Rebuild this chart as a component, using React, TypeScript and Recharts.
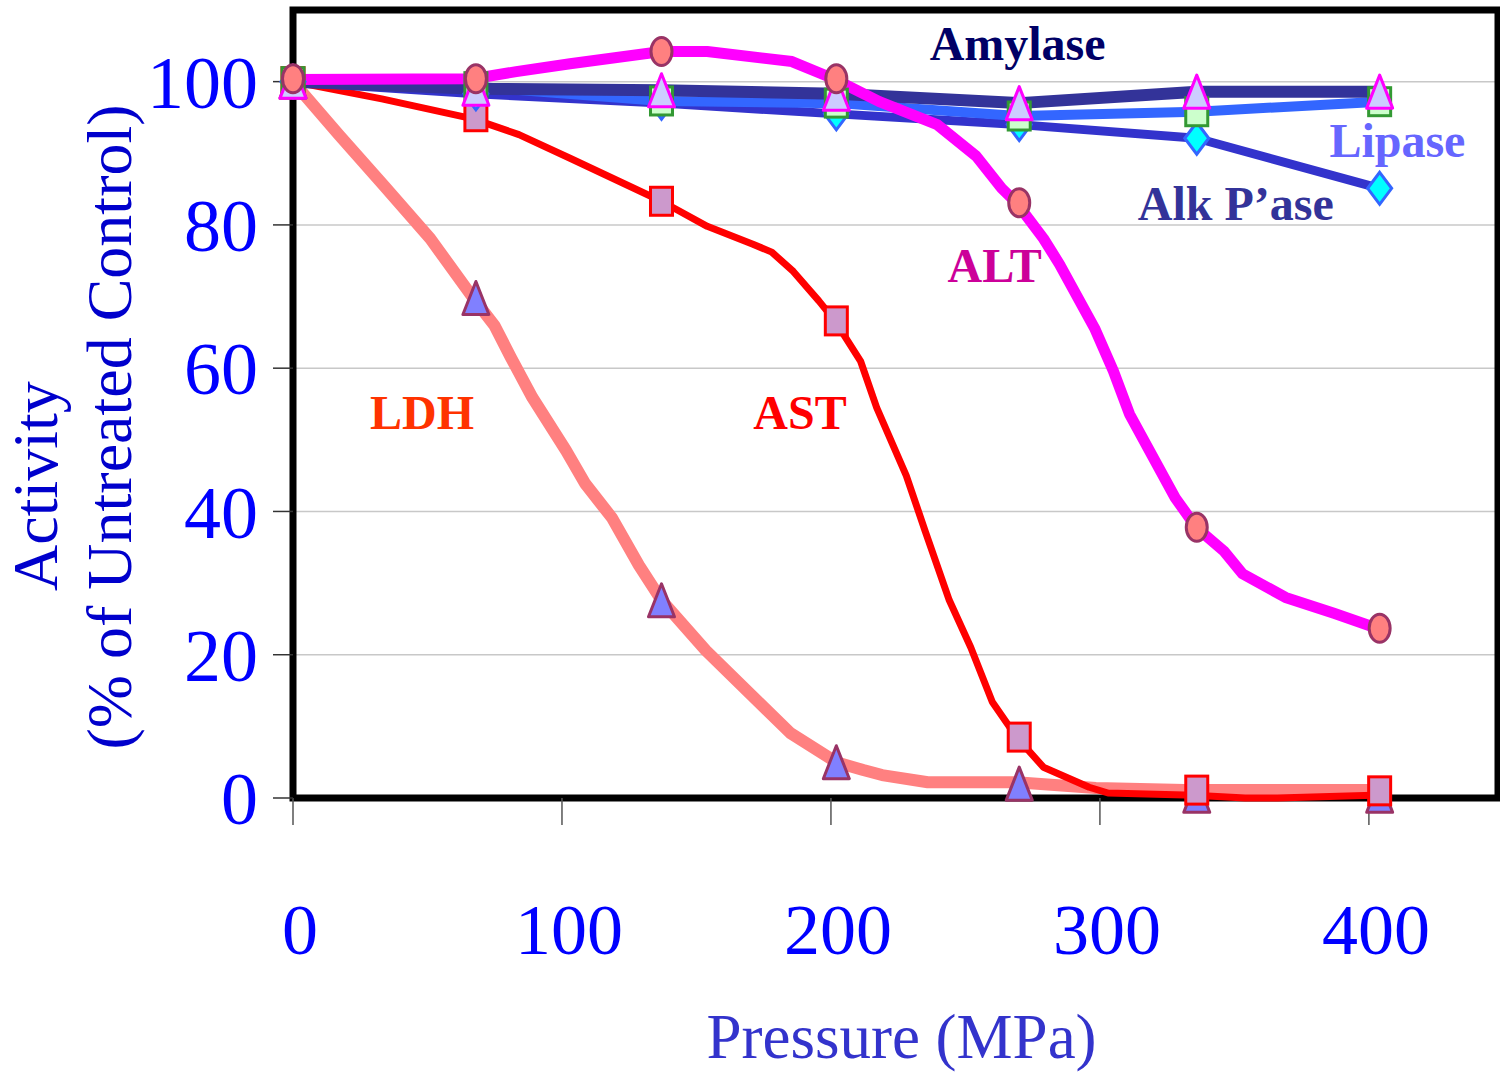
import React from 'react';
import {
  LineChart,
  Line,
  XAxis,
  YAxis,
  CartesianGrid,
  ReferenceArea,
  ReferenceDot,
} from 'recharts';

const FONT = "'Liberation Serif', 'Times New Roman', serif";

// pressure (MPa) at which the samples were measured
const pressure = [0, 68, 137, 202, 270, 336, 404];

// measured activity, % of untreated control
const amylase = [100, 99, 98.8, 98.3, 97, 98.6, 98.6];
const lipase = [100, 99.3, 97.3, 97.0, 95.2, 95.8, 97.2];
const alkPase = [100, 98.3, 97.0, 95.5, 94.0, 92.1, 85.1];
const alt = [100.4, 100.4, 104.2, 100.4, 83.1, 37.8, 23.7];
const ast = [100, 95.1, 83.3, 66.6, 8.5, 1.1, 1.0];
const ldh = [100, 69.8, 27.6, 5.0, 2.0, 0.3, 0.3];

// smoothed curves as drawn in the figure
const ldhCurveX = [0, 17, 34, 51, 67, 75, 81, 89, 101.5, 108.6, 118.6, 128.6, 137, 153.5, 170.6, 184.8, 202, 212, 219, 236, 269, 298.5, 331.6, 404];
const ldhCurveY = [100, 92.6, 85.4, 78.1, 69.8, 65.9, 61.5, 55.9, 48.5, 43.9, 39.1, 32.5, 27.6, 20.6, 14.3, 9.1, 5.0, 3.9, 3.2, 2.2, 2.2, 1.4, 1.1, 1.1];
const astCurveX = [0, 33, 67, 84, 103, 137, 154, 171, 178, 186, 195.5, 201.5, 211, 217, 228, 235, 244, 252, 260, 269, 279, 296, 303, 335, 354, 366, 401.5];
const astCurveY = [100, 97.6, 94.8, 92.6, 89.3, 83.3, 79.8, 77.3, 76.2, 73.5, 69.4, 66.6, 61, 54.5, 45, 37.3, 27.6, 21, 13.4, 8.5, 4.3, 1.5, 0.7, 0.4, 0, 0, 0.4];
const altCurveX = [0, 67, 83, 103, 137, 154, 185.5, 201, 218, 239.5, 254, 263.5, 269, 279, 285, 298, 305, 311, 328, 336, 346, 353, 369, 387, 403];
const altCurveY = [100.3, 100.4, 101.4, 102.5, 104.2, 104.2, 102.8, 100.4, 97.2, 94, 89.6, 85.1, 83.1, 78.1, 74.5, 65.6, 59.6, 53.6, 41.9, 37.7, 34.5, 31.3, 28, 25.8, 23.7];

const xTicks = [0, 100, 200, 300, 400];
const yTicks = [0, 20, 40, 60, 80, 100];

// series names written next to the curves
const notes = [
  { text: 'Amylase', x: 269.4, y: 105.4, color: '#000066' },
  { text: 'Lipase', x: 410.6, y: 91.9, color: '#6666ff' },
  { text: 'Alk P\u2019ase', x: 350.5, y: 83.1, color: '#333399' },
  { text: 'ALT', x: 260.9, y: 74.4, color: '#cc0099' },
  { text: 'AST', x: 188.5, y: 53.9, color: '#ff0000' },
  { text: 'LDH', x: 48, y: 53.9, color: '#ff3300' },
];

const zip = (xs: number[], ys: number[]) => xs.map((x, i) => ({ x, y: ys[i] }));

type DotProps = { cx?: number; cy?: number; index?: number };

const triangle = (fill: string, stroke: string) => (p: DotProps) => {
  const { cx = 0, cy = 0 } = p;
  const w = 26;
  const h = 33;
  return (
    <polygon
      key={p.index}
      points={`${cx},${cy - h / 2} ${cx + w / 2},${cy + h / 2} ${cx - w / 2},${cy + h / 2}`}
      fill={fill}
      stroke={stroke}
      strokeWidth={3}
      strokeLinejoin="round"
    />
  );
};

const square = (fill: string, stroke: string) => (p: DotProps) => {
  const { cx = 0, cy = 0 } = p;
  return (
    <rect key={p.index} x={cx - 11} y={cy - 14} width={22} height={28} fill={fill} stroke={stroke} strokeWidth={3} />
  );
};

const diamond = (p: DotProps) => {
  const { cx = 0, cy = 0 } = p;
  return (
    <polygon
      key={p.index}
      points={`${cx},${cy - 16} ${cx + 12},${cy} ${cx},${cy + 16} ${cx - 12},${cy}`}
      fill="#00ffff"
      stroke="#3366ff"
      strokeWidth={3}
    />
  );
};

const oval = (p: DotProps) => {
  const { cx = 0, cy = 0 } = p;
  return <ellipse key={p.index} cx={cx} cy={cy} rx={10.5} ry={14} fill="#ff8080" stroke="#993366" strokeWidth={3} />;
};

const XTick = ({ x, y, payload }: any) => (
  <text x={x + 7} y={y} dy="0.71em" textAnchor="middle" fill="#0000ff" fontSize={72} fontFamily={FONT}>
    {payload.value}
  </text>
);

const YTitle = () => (
  <g fill="#0000cc" fontSize={64} fontFamily={FONT} textAnchor="middle">
    <text x={57} y={486} transform="rotate(-90 57 486)">Activity</text>
    <text x={131} y={427} transform="rotate(-90 131 427)">(% of Untreated Control)</text>
  </g>
);

const curve = (key: string, data: { x: number; y: number }[], color: string, width: number) => (
  <Line
    key={key}
    data={data}
    dataKey="y"
    type="linear"
    stroke={color}
    strokeWidth={width}
    strokeLinejoin="round"
    dot={false}
    activeDot={false}
    isAnimationActive={false}
  />
);

const markers = (key: string, values: number[], dot: any) => (
  <Line
    key={key}
    data={zip(pressure, values)}
    dataKey="y"
    stroke="none"
    dot={dot}
    activeDot={false}
    isAnimationActive={false}
  />
);

export default function App() {
  return (
    <div style={{ width: 1500, height: 1072, background: '#fff' }}>
      <style>{'body{margin:0}'}</style>
      <LineChart width={1500} height={1072} margin={{ top: 10, right: 2, bottom: 0, left: 0 }}>
        <CartesianGrid vertical={false} stroke="#c8c8c8" strokeWidth={1.5} />
        <XAxis
          type="number"
          dataKey="x"
          domain={[0, 448]}
          ticks={xTicks}
          height={274}
          axisLine={false}
          tickSize={27}
          tickMargin={78}
          tickLine={{ stroke: '#555', strokeWidth: 1.5 }}
          tick={<XTick />}
          label={{
            value: 'Pressure (MPa)',
            position: 'insideBottom',
            offset: 14,
            dx: 6,
            fill: '#3333cc',
            fontSize: 63,
            fontFamily: FONT,
          }}
        />
        <YAxis
          type="number"
          domain={[0, 110]}
          ticks={yTicks}
          width={293}
          axisLine={false}
          tickSize={20}
          tickMargin={15}
          tickLine={{ stroke: '#333', strokeWidth: 1.5 }}
          tick={{ fill: '#0000ff', fontSize: 74, fontFamily: FONT }}
          label={{ content: () => <YTitle /> }}
        />
        <ReferenceArea x1={0} x2={448} y1={0} y2={110} fill="none" stroke="#000" strokeWidth={7} />

        {curve('ldhC', zip(ldhCurveX, ldhCurveY), '#ff8080', 12)}
        {markers('ldhM', ldh, triangle('#8080ff', '#993366'))}
        {curve('astC', zip(astCurveX, astCurveY), '#ff0000', 7)}
        {markers('astM', ast, square('#cc99cc', '#ff0000'))}
        {curve('alkC', zip(pressure, alkPase), '#3333cc', 9)}
        {markers('alkM', alkPase, diamond)}
        {curve('lipC', zip(pressure, lipase), '#3366ff', 10)}
        {markers('lipM', lipase, square('#ccffcc', '#339933'))}
        {curve('amyC', zip(pressure, amylase), '#333399', 12)}
        {markers('amyM', amylase, triangle('#ccccff', '#ff00ff'))}
        {curve('altC', zip(altCurveX, altCurveY), '#ff00ff', 11)}
        {markers('altM', alt, oval)}

        {notes.map((n) => (
          <ReferenceDot
            key={n.text}
            x={n.x}
            y={n.y}
            r={0}
            shape={(p: any) => (
              <text
                x={p.cx}
                y={p.cy}
                dy="0.355em"
                textAnchor="middle"
                fill={n.color}
                fontSize={48}
                fontWeight="bold"
                fontFamily={FONT}
              >
                {n.text}
              </text>
            )}
          />
        ))}
      </LineChart>
    </div>
  );
}
